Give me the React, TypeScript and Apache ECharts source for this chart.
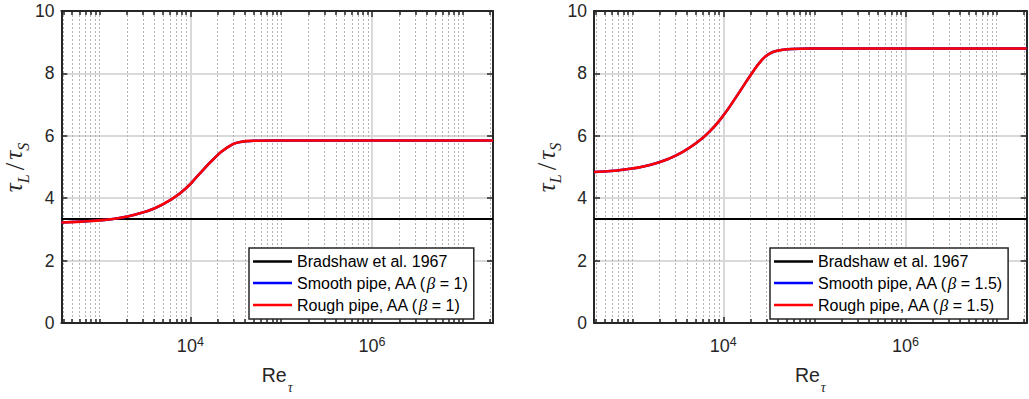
import React, { useEffect, useRef } from "react";
import * as echarts from "echarts";

// Friction Reynolds number samples and stress ratio τL/τS, β = 1 panel
const reBeta1 = [380, 630, 1000, 1600, 2500, 4000, 6300, 8900, 12600, 17800, 25100, 35500, 50100, 79400, 1e6, 2.15e7];
const ratioBeta1 = [3.22, 3.25, 3.29, 3.36, 3.48, 3.67, 3.98, 4.31, 4.78, 5.24, 5.61, 5.8, 5.84, 5.85, 5.85, 5.85];

// β = 1.5 panel
const reBeta15 = [380, 630, 1000, 1600, 2500, 3550, 5000, 7100, 10000, 14100, 20000, 26300, 31600, 39800, 56200, 89100, 1e6, 2.15e7];
const ratioBeta15 = [4.84, 4.88, 4.95, 5.07, 5.26, 5.48, 5.76, 6.14, 6.65, 7.28, 7.95, 8.42, 8.62, 8.73, 8.78, 8.8, 8.8, 8.8];

// Bradshaw et al. (1967) constant ratio
const bradshawRatio = 3.33;

const reRange = [380, 2.15e7];
const majorExponents = [4, 6];
const yRange = [0, 10];
const yStep = 2;

const namesBeta1 = ["Bradshaw et al. 1967", "Smooth pipe, AA (β = 1)", "Rough pipe, AA (β = 1)"];
const namesBeta15 = ["Bradshaw et al. 1967", "Smooth pipe, AA (β = 1.5)", "Rough pipe, AA (β = 1.5)"];

const AXIS = "#262626";
const GRID_MAJOR = "#d9d9d9";
const GRID_MINOR = "#b4b4b4";
const SANS = "'Liberation Sans', Arial, sans-serif";
const SERIF = "'Liberation Serif', 'Times New Roman', serif";

const xMin = Math.log10(reRange[0]);
const xMax = Math.log10(reRange[1]);

// minor decade positions 2..9 × 10^k (plus odd decades) in log10 units
const minorExponents: number[] = [];
for (let k = 2; k <= 7; k++) {
  for (let m = 1; m <= 9; m++) {
    const v = m * Math.pow(10, k);
    const e = Math.log10(v);
    if (v >= reRange[0] && v <= reRange[1] && !majorExponents.includes(e)) minorExponents.push(e);
  }
}

const panels = [
  { left: 59.3, width: 433.7, legendLeft: 249, re: reBeta1, ratio: ratioBeta1, names: namesBeta1 },
  { left: 594, width: 432.7, legendLeft: 770, re: reBeta15, ratio: ratioBeta15, names: namesBeta15 },
];

const TOP = 11;
const HEIGHT = 315.7;

function buildXAxes(g: number) {
  const base = { gridIndex: g, type: "value", min: xMin, max: xMax };
  const tickLine = { color: AXIS, width: 1.5 };
  return [
    {
      ...base,
      position: "bottom",
      axisLine: { show: true, onZero: false, lineStyle: { color: AXIS, width: 2 } },
      axisTick: { show: true, inside: true, length: 6, customValues: majorExponents, lineStyle: tickLine },
      axisLabel: {
        show: true,
        customValues: majorExponents,
        margin: 12,
        formatter: (v: number) => `{b|10}{s|${Math.round(v)}}`,
        rich: {
          b: { fontSize: 18, fontFamily: SANS, color: AXIS, lineHeight: 20, verticalAlign: "bottom" },
          s: { fontSize: 12.5, fontFamily: SANS, color: AXIS, lineHeight: 13, verticalAlign: "top" },
        },
      },
      splitLine: { show: true, lineStyle: { color: GRID_MAJOR, width: 2 } },
      name: "{r|Re}{t|τ}",
      nameLocation: "middle",
      nameGap: 42,
      nameTextStyle: {
        rich: {
          r: { fontSize: 19.5, fontFamily: SANS, color: AXIS, lineHeight: 22, verticalAlign: "top" },
          t: { fontSize: 14, fontFamily: SERIF, fontStyle: "italic", color: AXIS, lineHeight: 14, padding: [15, 0, 0, 1], verticalAlign: "top" },
        },
      },
    },
    {
      ...base,
      position: "bottom",
      axisLine: { show: false, onZero: false },
      axisTick: { show: true, inside: true, length: 4, customValues: minorExponents, lineStyle: tickLine },
      axisLabel: { show: false },
      splitLine: { show: true, lineStyle: { color: GRID_MINOR, width: 1, type: [2, 2] } },
    },
    {
      ...base,
      position: "top",
      axisLine: { show: true, onZero: false, lineStyle: { color: AXIS, width: 2 } },
      axisTick: { show: true, inside: true, length: 6, customValues: majorExponents, lineStyle: tickLine },
      axisLabel: { show: false },
      splitLine: { show: false },
    },
    {
      ...base,
      position: "top",
      axisLine: { show: false, onZero: false },
      axisTick: { show: true, inside: true, length: 4, customValues: minorExponents, lineStyle: tickLine },
      axisLabel: { show: false },
      splitLine: { show: false },
    },
  ];
}

function buildYAxes(g: number) {
  const base = { gridIndex: g, type: "value", min: yRange[0], max: yRange[1], interval: yStep };
  const tickLine = { color: AXIS, width: 1.5 };
  return [
    {
      ...base,
      position: "left",
      axisLine: { show: true, onZero: false, lineStyle: { color: AXIS, width: 2 } },
      axisTick: { show: true, inside: true, length: 6, lineStyle: tickLine },
      axisLabel: { color: AXIS, fontSize: 17.5, fontFamily: SANS, margin: 7 },
      splitLine: { show: true, lineStyle: { color: GRID_MAJOR, width: 2 } },
      name: "{t|τ}{s|L}{n|/}{t|τ}{s|S}",
      nameLocation: "middle",
      nameGap: 23,
      nameTextStyle: {
        rich: {
          t: { fontSize: 25, fontFamily: SERIF, fontStyle: "italic", color: AXIS, lineHeight: 26, verticalAlign: "top" },
          s: { fontSize: 16, fontFamily: SERIF, fontStyle: "italic", color: AXIS, lineHeight: 16, padding: [14, 1, 0, 0], verticalAlign: "top" },
          n: { fontSize: 27, fontFamily: SERIF, color: AXIS, lineHeight: 26, padding: [0, 3, 0, 3], verticalAlign: "top" },
        },
      },
    },
    {
      ...base,
      position: "right",
      axisLine: { show: true, onZero: false, lineStyle: { color: AXIS, width: 2 } },
      axisTick: { show: true, inside: true, length: 6, lineStyle: tickLine },
      axisLabel: { show: false },
      splitLine: { show: false },
    },
  ];
}

function buildSeries(g: number) {
  const p = panels[g];
  const pts = p.re.map((r, i) => [Math.log10(r), p.ratio[i]]);
  const common = { type: "line", xAxisIndex: g * 4, yAxisIndex: g * 2, symbol: "none", showSymbol: false };
  return [
    {
      ...common,
      name: p.names[0],
      data: reRange.map((r) => [Math.log10(r), bradshawRatio]),
      color: "#000000",
      lineStyle: { color: "#000000", width: 2 },
    },
    {
      ...common,
      name: p.names[1],
      data: pts,
      smooth: 0.5,
      color: "#0000ff",
      lineStyle: { color: "#0000ff", width: 2.5 },
    },
    {
      ...common,
      name: p.names[2],
      data: pts,
      smooth: 0.5,
      color: "#ff0000",
      lineStyle: { color: "#ff0000", width: 2.6 },
    },
  ];
}

export default function App() {
  const ref = useRef<HTMLDivElement>(null);

  useEffect(() => {
    if (!ref.current) return;
    const chart = echarts.init(ref.current, null, { renderer: "svg" });
    chart.setOption({
      animation: false,
      backgroundColor: "#ffffff",
      grid: panels.map((p) => ({ left: p.left, top: TOP, width: p.width, height: HEIGHT, containLabel: false })),
      xAxis: [...buildXAxes(0), ...buildXAxes(1)],
      yAxis: [...buildYAxes(0), ...buildYAxes(1)],
      legend: panels.map((p) => ({
        data: p.names,
        left: p.legendLeft,
        top: 248,
        orient: "vertical",
        icon: "rect",
        itemWidth: 39,
        itemHeight: 2.5,
        itemGap: 5,
        padding: [5.5, 6, 5.5, 4],
        backgroundColor: "#ffffff",
        borderColor: AXIS,
        borderWidth: 1.5,
        borderRadius: 0,
        selectedMode: false,
        formatter: (n: string) => n.replace("β", "{i|β}"),
        textStyle: {
          fontSize: 16,
          lineHeight: 16,
          fontFamily: SANS,
          color: "#000000",
          rich: {
            i: { fontSize: 17, lineHeight: 16, fontFamily: SERIF, fontStyle: "italic", color: "#000000" },
          },
        },
      })),
      series: [...buildSeries(0), ...buildSeries(1)],
    });
    return () => chart.dispose();
  }, []);

  return (
    <div
      ref={ref}
      style={{ position: "absolute", left: 0, top: 0, width: 1029, height: 399 }}
    />
  );
}
